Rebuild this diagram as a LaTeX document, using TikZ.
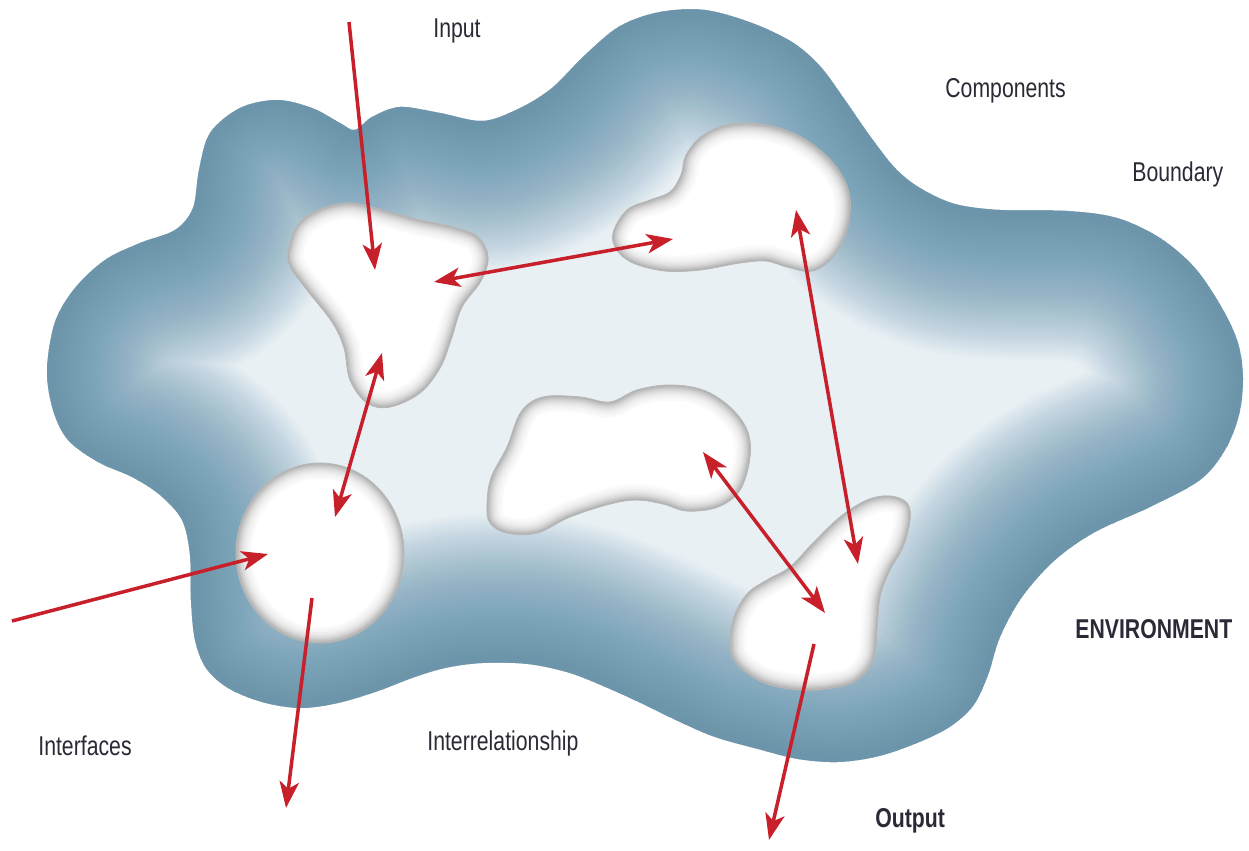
\documentclass[tikz,border=0pt]{standalone}
\usepackage{fontspec}
\setmainfont{Liberation Sans}[FakeStretch=0.78]
\usetikzlibrary{arrows.meta}
\definecolor{blobin}{HTML}{E8F0F4}
\definecolor{blobedge}{HTML}{5A8EAA}
\definecolor{rimgray}{HTML}{8A8A8A}
\definecolor{arrred}{HTML}{C8202B}
\definecolor{txt}{HTML}{2A2A36}
\def\blobpath{plot[smooth cycle, tension=0.55] coordinates {(47,370) (55,322) (75,288) (105,260) (140,243) (175,230) (193,208) (199,170) (210,133) (240,108) (277,100) (312,108) (340,123) (355,130) (372,117) (400,107) (440,113) (483,121) (520,108) (552,88) (585,55) (620,26) (660,12) (705,10) (752,23) (792,42) (820,66) (845,100) (870,136) (895,168) (920,188) (955,204) (1000,210) (1067,211) (1117,218) (1160,238) (1195,268) (1222,308) (1238,343) (1243,378) (1239,415) (1225,450) (1200,480) (1150,507) (1095,532) (1055,560) (1022,597) (1000,637) (988,675) (973,706) (948,728) (912,745) (875,757) (837,762) (798,759) (758,749) (715,737) (680,722) (645,705) (610,689) (570,673) (528,664) (482,663) (445,668) (412,678) (378,691) (338,703) (300,708) (262,702) (228,688) (206,668) (195,640) (191,600) (190,555) (182,520) (160,495) (132,477) (98,462) (68,440) (53,410)}}
\def\compA{plot[smooth cycle, tension=0.6] coordinates {(290,243) (300,222) (323,208) (353,203) (390,212) (420,220) (453,227) (478,237) (488,257) (481,281) (462,307) (451,340) (440,368) (420,393) (390,407) (367,403) (350,380) (344,348) (332,322) (307,290) (289,264)}}
\def\compB{plot[smooth cycle, tension=0.6] coordinates {(613,233) (627,210) (650,200) (670,192) (681,175) (686,155) (702,136) (727,125) (760,124) (793,133) (820,150) (840,172) (850,198) (847,230) (833,257) (812,271) (787,267) (766,261) (740,263) (700,270) (665,271) (633,263) (617,250)}}
\def\compC{plot[smooth cycle, tension=0.6] coordinates {(487,505) (491,478) (507,447) (521,412) (543,397) (580,397) (610,402) (637,390) (670,385) (703,390) (730,407) (747,430) (750,457) (740,490) (718,507) (687,511) (663,504) (637,500) (610,504) (570,517) (537,533) (507,533) (490,523)}}
\def\compD{(320,553) ellipse [x radius=1.68cm, y radius=1.8cm]}
\def\compE{plot[smooth cycle, tension=0.6] coordinates {(733,620) (731,652) (743,670) (767,684) (800,690) (833,688) (857,680) (873,660) (877,630) (880,597) (890,570) (903,547) (910,520) (907,503) (890,496) (867,500) (840,517) (813,543) (790,567) (767,580) (747,594)}}
\newcommand\mycomp[1]{%
  \begin{scope}
    \clip #1;
    \fill[white] #1;
    \foreach \w/\o in {18/0.04,15/0.05,12/0.06,9.5/0.08,7.5/0.1,5.5/0.12,4/0.14,2.5/0.16,1.2/0.22}{%
      \draw[draw=rimgray, line width=\w pt, opacity=\o] #1;}
  \end{scope}
  \draw[rimgray!60, line width=0.5pt] #1;
}
\begin{document}
\begin{tikzpicture}[x=0.02cm, y=-0.02cm,
  arr/.style={draw=arrred, line width=2pt, -{Stealth[length=15pt,width=11pt,inset=4pt]}},
  darr/.style={draw=arrred, line width=2pt, {Stealth[length=15pt,width=11pt,inset=4pt]}-{Stealth[length=15pt,width=11pt,inset=4pt]}},
  lbl/.style={text=txt, font=\fontsize{15.5}{18}\selectfont, inner sep=0pt, anchor=base west},
  blbl/.style={lbl, font=\fontsize{15.5}{18}\selectfont\bfseries}]
\useasboundingbox (0,0) rectangle (1249,851);
% system boundary with inner glow
\begin{scope}
  \clip \blobpath;
  \fill[blobin] \blobpath;
  \foreach \w in {5,8,...,170}{%
    \draw[draw=blobedge, line width=\w pt, opacity=0.028] \blobpath;}
\end{scope}
% components
\mycomp{\compA}
\mycomp{\compB}
\mycomp{\compC}
\mycomp{\compD}
\mycomp{\compE}
% arrow end points
\coordinate (inS) at (349,22);   \coordinate (inT) at (375,270);
\coordinate (c1a) at (434,282);  \coordinate (c2a) at (673,239);
\coordinate (c1b) at (382,353);  \coordinate (c4a) at (335,517);
\coordinate (c2b) at (796,210);  \coordinate (c5a) at (858,564);
\coordinate (c3a) at (703,452);  \coordinate (c5b) at (825,613);
\coordinate (lS) at (12,621);    \coordinate (c4in) at (268,554);
\coordinate (c4out) at (312,598); \coordinate (o1) at (286,808);
\coordinate (c5out) at (814,644); \coordinate (o2) at (769,840);
% connectors
\draw[arr] (inS) -- (inT);
\draw[darr] (c1a) -- (c2a);
\draw[darr] (c1b) -- (c4a);
\draw[darr] (c2b) -- (c5a);
\draw[darr] (c3a) -- (c5b);
\draw[arr] (lS) -- (c4in);
\draw[arr] (c4out) -- (o1);
\draw[arr] (c5out) -- (o2);
% labels
\node[lbl] (input) at (433,38) {Input};
\node[lbl] (components) at (945,98) {Components};
\node[lbl] (boundary) at (1132,182) {Boundary};
\node[blbl] (environment) at (1075,639) {ENVIRONMENT};
\node[lbl] (interfaces) at (38,755) {Interfaces};
\node[lbl] (interrel) at (427,750) {Interrelationship};
\node[blbl] (output) at (875,827) {Output};
\end{tikzpicture}
\end{document}
